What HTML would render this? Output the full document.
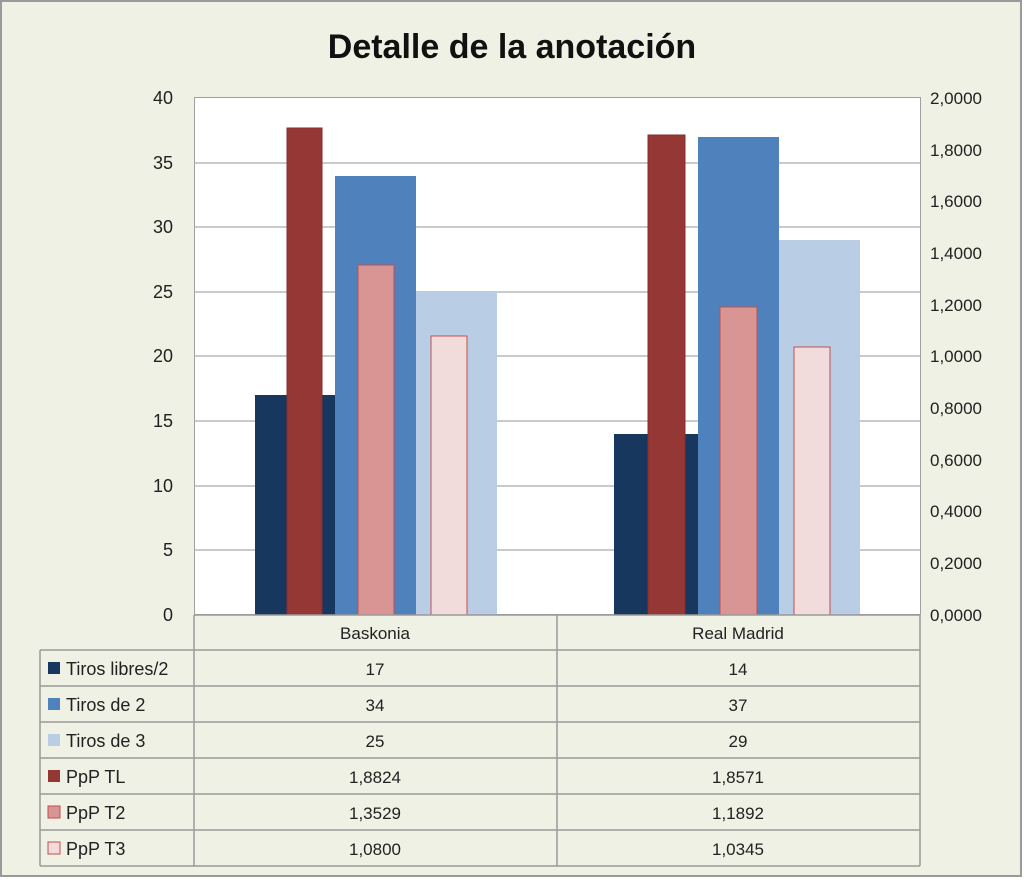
<!DOCTYPE html>
<html><head><meta charset="utf-8"><style>
body{margin:0;width:1024px;height:879px;background:#fff;overflow:hidden}
svg text{font-family:"Liberation Sans",sans-serif}
</style></head><body>
<svg width="1024" height="879" xmlns="http://www.w3.org/2000/svg">
<rect x="1" y="1" width="1020" height="875" fill="#eef1e3" stroke="#9a9a9a" stroke-width="2"/>
<text x="512" y="58" text-anchor="middle" font-size="34" font-weight="bold" fill="#111">Detalle de la anotación</text>
<rect x="194.5" y="97.5" width="726" height="517" fill="#fff" stroke="#a0a0a0"/>
<g stroke="#b8b8b8" stroke-width="1.5">
<line x1="195" x2="920" y1="163" y2="163"/><line x1="195" x2="920" y1="227" y2="227"/>
<line x1="195" x2="920" y1="292" y2="292"/><line x1="195" x2="920" y1="356" y2="356"/>
<line x1="195" x2="920" y1="421" y2="421"/><line x1="195" x2="920" y1="486" y2="486"/>
<line x1="195" x2="920" y1="550" y2="550"/>
</g>
<g font-size="18" fill="#222" text-anchor="end">
<text x="173" y="104">40</text><text x="173" y="169">35</text><text x="173" y="233">30</text>
<text x="173" y="298">25</text><text x="173" y="362">20</text><text x="173" y="427">15</text>
<text x="173" y="492">10</text><text x="173" y="556">5</text><text x="173" y="621">0</text>
</g>
<g font-size="17" fill="#222">
<text x="930" y="104">2,0000</text><text x="930" y="156">1,8000</text><text x="930" y="207">1,6000</text>
<text x="930" y="259">1,4000</text><text x="930" y="311">1,2000</text><text x="930" y="362">1,0000</text>
<text x="930" y="414">0,8000</text><text x="930" y="466">0,6000</text><text x="930" y="517">0,4000</text>
<text x="930" y="569">0,2000</text><text x="930" y="621">0,0000</text>
</g>
<!-- Baskonia -->
<rect x="255" y="395" width="80" height="220" fill="#17375e"/>
<rect x="335" y="176" width="81" height="439" fill="#4f81bd"/>
<rect x="416" y="292" width="81" height="323" fill="#b9cde5"/>
<rect x="287" y="128" width="35" height="487" fill="#953735" stroke="#8a2e2c"/>
<rect x="358" y="265" width="36" height="350" fill="#d99594" stroke="#c0504d"/>
<rect x="431" y="336" width="36" height="279" fill="#f2dcdb" stroke="#c0504d"/>
<!-- Real Madrid -->
<rect x="614" y="434" width="84" height="181" fill="#17375e"/>
<rect x="698" y="137" width="81" height="478" fill="#4f81bd"/>
<rect x="779" y="240" width="81" height="375" fill="#b9cde5"/>
<rect x="648" y="135" width="37" height="480" fill="#953735" stroke="#8a2e2c"/>
<rect x="720" y="307" width="37" height="308" fill="#d99594" stroke="#c0504d"/>
<rect x="794" y="347" width="36" height="268" fill="#f2dcdb" stroke="#c0504d"/>
<!-- table -->
<g stroke="#9a9a9a" stroke-width="1.5" fill="none">
<line x1="194" y1="615" x2="920" y2="615"/>
<line x1="194" y1="615" x2="194" y2="866"/>
<line x1="557" y1="615" x2="557" y2="866"/>
<line x1="920" y1="615" x2="920" y2="866"/>
<line x1="40" y1="650" x2="920" y2="650"/>
<line x1="40" y1="686" x2="920" y2="686"/>
<line x1="40" y1="722" x2="920" y2="722"/>
<line x1="40" y1="758" x2="920" y2="758"/>
<line x1="40" y1="794" x2="920" y2="794"/>
<line x1="40" y1="830" x2="920" y2="830"/>
<line x1="40" y1="866" x2="920" y2="866"/>
<line x1="40" y1="650" x2="40" y2="866"/>
</g>
<g font-size="17" fill="#222" text-anchor="middle">
<text x="375" y="639">Baskonia</text><text x="738" y="639">Real Madrid</text>
<text x="375" y="675">17</text><text x="738" y="675">14</text>
<text x="375" y="711">34</text><text x="738" y="711">37</text>
<text x="375" y="747">25</text><text x="738" y="747">29</text>
<text x="375" y="783">1,8824</text><text x="738" y="783">1,8571</text>
<text x="375" y="819">1,3529</text><text x="738" y="819">1,1892</text>
<text x="375" y="855">1,0800</text><text x="738" y="855">1,0345</text>
</g>
<rect x="48" y="662" width="12" height="12" fill="#17375e"/>
<rect x="48" y="698" width="12" height="12" fill="#4f81bd"/>
<rect x="48" y="734" width="12" height="12" fill="#b9cde5"/>
<rect x="48" y="770" width="12" height="12" fill="#953735"/>
<rect x="48" y="806" width="12" height="12" fill="#d99594" stroke="#c0504d"/>
<rect x="48" y="842" width="12" height="12" fill="#f2dcdb" stroke="#c0504d"/>
<g font-size="18" fill="#222">
<text x="66" y="675">Tiros libres/2</text>
<text x="66" y="711">Tiros de 2</text>
<text x="66" y="747">Tiros de 3</text>
<text x="66" y="783">PpP TL</text>
<text x="66" y="819">PpP T2</text>
<text x="66" y="855">PpP T3</text>
</g>
</svg>
</body></html>
